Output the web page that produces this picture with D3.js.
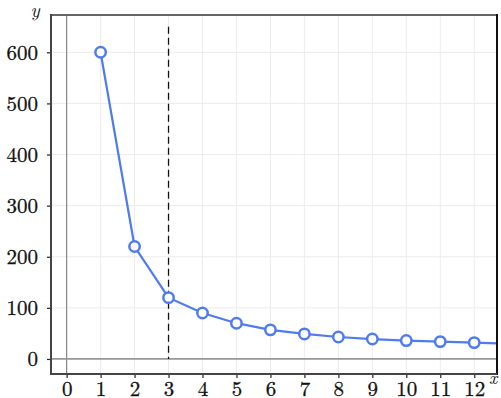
<!DOCTYPE html>
<html>
<head>
<meta charset="utf-8">
<script src="https://cdn.jsdelivr.net/npm/d3@7"></script>
<style>
  body { margin: 0; background: #fff; }
</style>
</head>
<body>
<div id="chart"></div>
<script>
// Data
var xValues = [1, 2, 3, 4, 5, 6, 7, 8, 9, 10, 11, 12, 13];
var yValues = [600, 220, 120, 90, 70, 57, 49, 43, 39, 36, 34, 32, 30];
var xTicks  = [0, 1, 2, 3, 4, 5, 6, 7, 8, 9, 10, 11, 12];
var yTicks  = [0, 100, 200, 300, 400, 500, 600];
var cutX    = 3;
var cutTop  = 650;

var width = 501, height = 398;
var frame = {left: 51, top: 15, right: 497, bottom: 374};
var fontFam = "'Latin Modern Roman', 'Liberation Serif', serif";

var x = d3.scaleLinear().domain([-0.46, 12.67]).range([frame.left, frame.right]);
var y = d3.scaleLinear().domain([-29.4, 673]).range([frame.bottom, frame.top]);

var svg = d3.select("#chart").append("svg")
    .attr("width", width)
    .attr("height", height);

svg.append("defs").append("clipPath").attr("id", "plot-clip")
  .append("rect")
    .attr("x", frame.left).attr("y", frame.top)
    .attr("width", frame.right - frame.left)
    .attr("height", frame.bottom - frame.top);

var plot = svg.append("g").attr("clip-path", "url(#plot-clip)");

// grid
plot.selectAll(".vgrid").data(xTicks.concat([13])).enter().append("line")
    .attr("x1", function(d) { return x(d); }).attr("x2", function(d) { return x(d); })
    .attr("y1", frame.top).attr("y2", frame.bottom)
    .style("stroke", "#ececec").style("stroke-width", 1);
plot.selectAll(".hgrid").data(yTicks).enter().append("line")
    .attr("y1", function(d) { return y(d); }).attr("y2", function(d) { return y(d); })
    .attr("x1", frame.left).attr("x2", frame.right)
    .style("stroke", "#ececec").style("stroke-width", 1);

// zero axes
plot.append("line")
    .attr("x1", x(0)).attr("x2", x(0)).attr("y1", frame.top).attr("y2", frame.bottom)
    .style("stroke", "#888").style("stroke-width", 1.2);
plot.append("line")
    .attr("y1", y(0)).attr("y2", y(0)).attr("x1", frame.left).attr("x2", frame.right)
    .style("stroke", "#999").style("stroke-width", 1.8);

// dashed cut line
plot.append("line")
    .attr("x1", x(cutX)).attr("x2", x(cutX))
    .attr("y1", y(cutTop)).attr("y2", y(0))
    .style("stroke", "#111").style("stroke-width", 1.3)
    .style("stroke-dasharray", "7,4");

var pts = xValues.map(function(d, i) { return [d, yValues[i]]; });

plot.append("path")
    .datum(pts)
    .attr("d", d3.line().x(function(d) { return x(d[0]); }).y(function(d) { return y(d[1]); }))
    .style("fill", "none")
    .style("stroke", "#4f7bee")
    .style("stroke-width", 2.2);

plot.selectAll(".pt").data(pts).enter().append("circle")
    .attr("cx", function(d) { return x(d[0]); })
    .attr("cy", function(d) { return y(d[1]); })
    .attr("r", 5.2)
    .style("fill", "#fff")
    .style("stroke", "#4f7bee")
    .style("stroke-width", 2.5);

// frame
svg.append("line").attr("x1", frame.left).attr("x2", frame.right).attr("y1", frame.top).attr("y2", frame.top)
    .style("stroke", "#666").style("stroke-width", 2);
svg.append("line").attr("x1", frame.right).attr("x2", frame.right).attr("y1", frame.top - 1).attr("y2", frame.bottom + 1)
    .style("stroke", "#111").style("stroke-width", 2);
svg.append("line").attr("x1", frame.left).attr("x2", frame.left).attr("y1", frame.top - 1).attr("y2", frame.bottom + 1)
    .style("stroke", "#444").style("stroke-width", 2);
svg.append("line").attr("x1", frame.left).attr("x2", frame.right).attr("y1", frame.bottom).attr("y2", frame.bottom)
    .style("stroke", "#444").style("stroke-width", 2);

// axes
var xAxis = d3.axisBottom(x).tickValues(xTicks).tickSize(3).tickPadding(6);
var yAxis = d3.axisLeft(y).tickValues(yTicks).tickSize(3).tickPadding(9);

var gx = svg.append("g").attr("transform", "translate(0," + (frame.bottom + 1) + ")").call(xAxis);
var gy = svg.append("g").attr("transform", "translate(" + (frame.left - 1) + ",0)").call(yAxis);

gx.select(".domain").remove();
gy.select(".domain").remove();
svg.selectAll(".tick line").style("stroke", "#222").style("stroke-width", 1.2);
svg.selectAll(".tick text")
    .style("font-family", fontFam)
    .style("font-size", "21px")
    .style("fill", "#111")
    .style("stroke", "#111")
    .style("stroke-width", 0.3);
gx.selectAll(".tick text").attr("y", 0).attr("dy", null).attr("transform", "translate(0,20.5)");
gy.selectAll(".tick text").attr("dy", "0.32em");

// axis names
svg.append("text")
    .attr("x", 35).attr("y", 17)
    .attr("text-anchor", "middle")
    .style("font-family", fontFam)
    .style("font-style", "italic")
    .style("font-size", "19px")
    .style("fill", "#111")
    .text("y");
svg.append("text")
    .attr("x", 489).attr("y", 384)
    .attr("text-anchor", "start")
    .style("font-family", fontFam)
    .style("font-style", "italic")
    .style("font-size", "18px")
    .style("fill", "#111")
    .text("x");
</script>
</body>
</html>
